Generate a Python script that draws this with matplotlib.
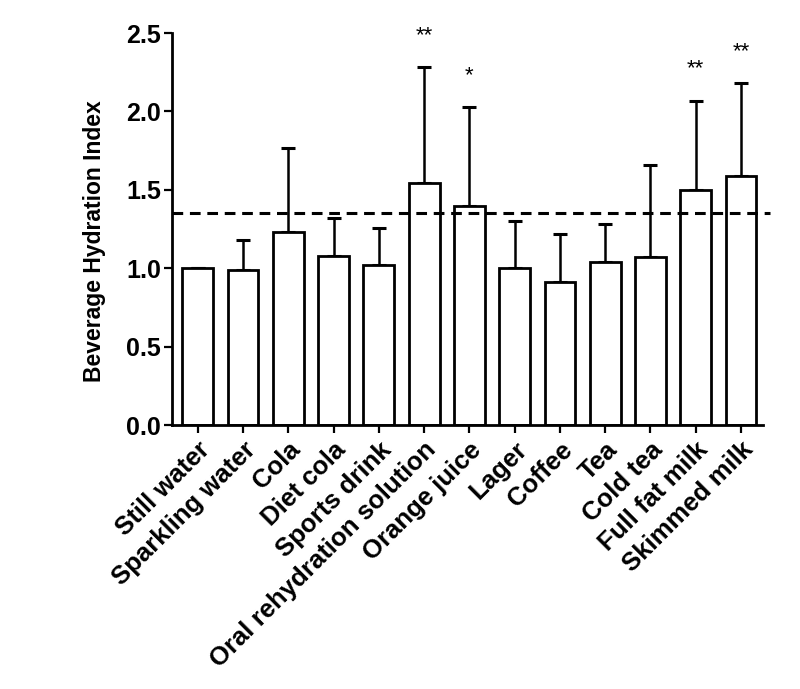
import numpy as np
import matplotlib
matplotlib.use('Agg')
import matplotlib.pyplot as plt

plt.rcParams['font.family'] = ['Liberation Sans', 'DejaVu Sans']
plt.rcParams['font.weight'] = 'bold'

# Data
drinks = ['Still water', 'Sparkling water', 'Cola', 'Diet cola', 'Sports drink',
          'Oral rehydration solution', 'Orange juice', 'Lager', 'Coffee', 'Tea',
          'Cold tea', 'Full fat milk', 'Skimmed milk']
bhi_mean = [1.00, 0.99, 1.23, 1.08, 1.02, 1.545, 1.40, 1.00, 0.91, 1.04, 1.07, 1.50, 1.59]
bhi_upper = [1.00, 1.18, 1.77, 1.32, 1.26, 2.285, 2.03, 1.30, 1.22, 1.28, 1.66, 2.07, 2.18]
sig_marks = ['', '', '', '', '', '**', '*', '', '', '', '', '**', '**']
ref_line = 1.354

x = np.arange(len(drinks))
err_up = np.array(bhi_upper) - np.array(bhi_mean)
err = [np.zeros(len(drinks)), err_up]

fig = plt.figure(figsize=(8, 6.89), dpi=100)
ax = fig.add_axes([0.215, 0.383, 0.739, 0.569])

ax.bar(x, bhi_mean, width=0.68, color='white', edgecolor='black', linewidth=2, zorder=2)
ax.errorbar(x, bhi_mean, yerr=err, fmt='none', ecolor='black', elinewidth=1.8,
            capsize=5, capthick=2.2, zorder=1)

ax.axhline(ref_line, color='black', linestyle=(0, (3.5, 2.2)), linewidth=2.2, zorder=3,
           xmax=1.012, clip_on=False)

for xi, top, mark in zip(x, bhi_upper, sig_marks):
    if mark:
        ax.text(xi, top + 0.2, mark, ha='center', va='center', fontsize=16,
                fontweight='normal', clip_on=False)

ax.set_xlim(-0.57, 12.49)
ax.set_ylim(0, 2.5)
ax.set_yticks([0.0, 0.5, 1.0, 1.5, 2.0, 2.5])
ax.set_yticklabels(['0.0', '0.5', '1.0', '1.5', '2.0', '2.5'], fontsize=18, fontweight='bold')
ax.set_xticks(x)
ax.set_xticklabels(drinks, rotation=45, ha='right', rotation_mode='anchor',
                   fontsize=18.5, fontweight='bold')
ax.set_ylabel('Beverage Hydration Index', fontsize=16.5, fontweight='bold')
ax.yaxis.set_label_coords(-0.112, 0.47)

for side in ['top', 'right']:
    ax.spines[side].set_visible(False)
for side in ['left', 'bottom']:
    ax.spines[side].set_linewidth(2)
ax.tick_params(axis='both', width=1.6, length=6, direction='out')
ax.tick_params(axis='y', pad=2)
ax.tick_params(axis='x', pad=3)

fig.savefig('out.png', dpi=100)
